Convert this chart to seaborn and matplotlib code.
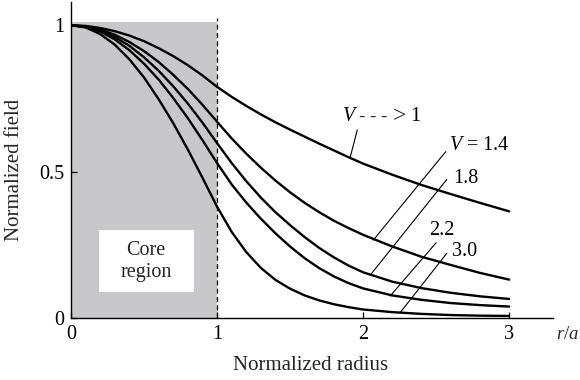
import matplotlib
matplotlib.use("Agg")
import matplotlib.pyplot as plt
from matplotlib.patches import Rectangle
import pandas as pd
import seaborn as sns

# Normalized radius r/a and the fundamental-mode field for each V value
radius = [0.0, 0.1, 0.2, 0.3, 0.4, 0.5, 0.6, 0.7, 0.8, 0.9, 1.0,
          1.1, 1.2, 1.3, 1.4, 1.5, 1.6, 1.7, 1.8, 1.9, 2.0,
          2.2, 2.4, 2.6, 2.8, 3.0]
field_v_to_1 = [1.0, 0.998, 0.991, 0.980, 0.965, 0.946, 0.922, 0.895, 0.864, 0.829, 0.790,
                0.756, 0.725, 0.696, 0.669, 0.644, 0.620, 0.596, 0.573, 0.550, 0.528,
                0.490, 0.455, 0.424, 0.394, 0.365]
field_v14 = [1.0, 0.996, 0.986, 0.968, 0.943, 0.912, 0.875, 0.831, 0.783, 0.729, 0.671,
             0.614, 0.562, 0.514, 0.470, 0.430, 0.394, 0.362, 0.333, 0.308, 0.285,
             0.245, 0.210, 0.182, 0.155, 0.132]
field_v18 = [1.0, 0.996, 0.982, 0.960, 0.930, 0.891, 0.845, 0.792, 0.733, 0.668, 0.598,
             0.530, 0.468, 0.412, 0.362, 0.318, 0.277, 0.240, 0.208, 0.180, 0.157,
             0.125, 0.103, 0.087, 0.075, 0.066]
field_v22 = [1.0, 0.995, 0.979, 0.952, 0.915, 0.869, 0.815, 0.752, 0.683, 0.608, 0.530,
             0.457, 0.395, 0.340, 0.290, 0.245, 0.205, 0.171, 0.143, 0.120, 0.102,
             0.078, 0.063, 0.052, 0.045, 0.040]
field_v30 = [1.0, 0.993, 0.970, 0.934, 0.884, 0.822, 0.748, 0.666, 0.576, 0.480, 0.381,
             0.295, 0.226, 0.172, 0.131, 0.101, 0.078, 0.061, 0.048, 0.038, 0.030,
             0.021, 0.015, 0.011, 0.009, 0.008]

series = {"V->1": field_v_to_1, "1.4": field_v14, "1.8": field_v18,
          "2.2": field_v22, "3.0": field_v30}

x_ticks = [0, 1, 2, 3]
x_tick_labels = ["0", "1", "2", "3"]
y_ticks = [0, 0.5, 1]
y_tick_labels = ["0", "0.5", "1"]

df = pd.concat(
    [pd.DataFrame({"radius": radius, "field": vals, "V": name}) for name, vals in series.items()],
    ignore_index=True,
)

sns.set_theme(style="ticks")
plt.rcParams["font.family"] = ["Liberation Serif", "DejaVu Serif"]
plt.rcParams["mathtext.fontset"] = "custom"
plt.rcParams["mathtext.rm"] = "Liberation Serif"
plt.rcParams["mathtext.it"] = "Liberation Serif:italic"

fig = plt.figure(figsize=(5.8, 3.8), dpi=100)
fig.patch.set_facecolor("white")
ax = fig.add_axes([0.1224, 0.1624, 0.8310, 0.8326])
ax.set_facecolor("white")

# Core region shading and core/cladding boundary
ax.fill_between([0, 1], 0, 1.011, color="#c8c8ca", linewidth=0, zorder=0)
ax.plot([1, 1], [0, 1.024], color="black", lw=0.9, ls=(0, (4, 2.6)), zorder=1)
ax.add_patch(Rectangle((0.19, 0.09), 0.65, 0.21, facecolor="white", edgecolor="none", zorder=1))
ax.text(0.515, 0.195, "Core\nregion", ha="center", va="center", fontsize=14.5,
        linespacing=1.2, zorder=2)

sns.lineplot(data=df, x="radius", y="field", hue="V", palette=["black"] * 5,
             legend=False, lw=1.7, ax=ax, zorder=3)

ax.set_xlim(0, 3.3)
ax.set_ylim(0, 1.08)
ax.set_xticks(x_ticks, x_tick_labels)
ax.set_yticks(y_ticks, y_tick_labels)
ax.tick_params(direction="in", length=4, width=0.9, labelsize=14.5, colors="black", pad=5)
ax.set_xlabel("")
ax.set_ylabel("")
for side in ["top", "right"]:
    ax.spines[side].set_visible(False)
for side in ["left", "bottom"]:
    ax.spines[side].set_linewidth(1.0)
    ax.spines[side].set_color("black")

fig.text(15 / 580, 1 - 170 / 380, "Normalized field", rotation=90, ha="center",
         va="center", fontsize=15)
fig.text(311 / 580, 1 - 366 / 380, "Normalized radius", ha="center", va="center", fontsize=15)
ax.text(3.322, -0.057, "$r/a$", ha="left", va="center", fontsize=13.5, clip_on=False)

# Curve labels with leader lines
lab = dict(fontsize=14.5, va="center", ha="left", color="black")
ax.text(1.855, 0.688, "$V$", **lab)
ax.text(1.975, 0.690, "- - -", fontsize=13.5, va="center", ha="left")
ax.text(2.20, 0.690, ">", fontsize=17, va="center", ha="left")
ax.text(2.325, 0.690, "1", **lab)
ax.text(2.585, 0.591, "$V$ = 1.4", **lab)
ax.text(2.62, 0.478, "1.8", **lab)
ax.text(2.45, 0.301, "2.2", **lab)
ax.text(2.61, 0.227, "3.0", **lab)

leaders = [((1.96, 0.643), (1.91, 0.546)),
           ((2.566, 0.569), (2.07, 0.267)),
           ((2.573, 0.474), (2.05, 0.148)),
           ((2.50, 0.258), (2.185, 0.076)),
           ((2.573, 0.222), (2.25, 0.017))]
for (x0, y0), (x1, y1) in leaders:
    ax.plot([x0, x1], [y0, y1], color="black", lw=0.8, zorder=4)

fig.savefig("out.png", dpi=100, facecolor="white")
